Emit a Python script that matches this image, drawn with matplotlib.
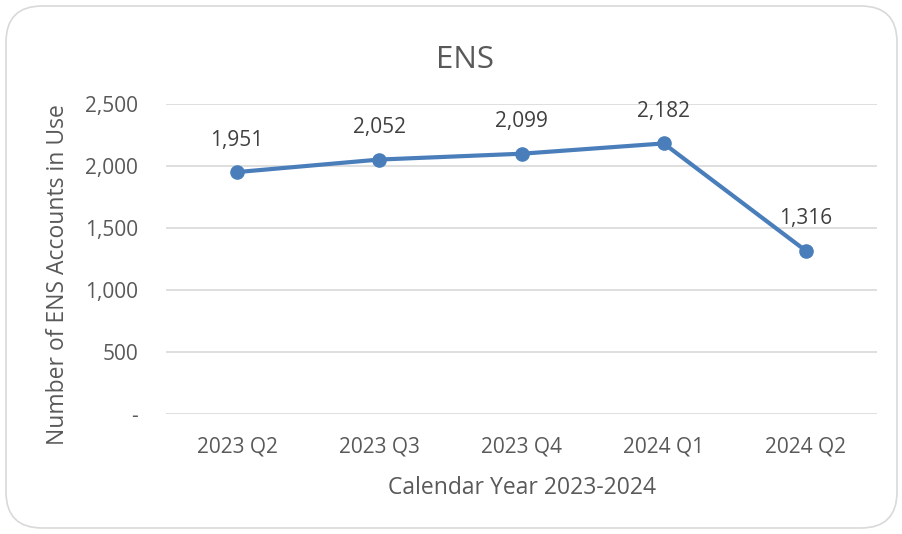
import matplotlib.pyplot as plt
from matplotlib.patches import FancyBboxPatch

quarters = ["2023 Q2", "2023 Q3", "2023 Q4", "2024 Q1", "2024 Q2"]
accounts = [1951, 2052, 2099, 2182, 1316]
y_ticks = [0, 500, 1000, 1500, 2000, 2500]
y_tick_labels = ["-", "500", "1,000", "1,500", "2,000", "2,500"]

plt.rcParams["font.family"] = ["Open Sans", "DejaVu Sans"]
text_color = "#595959"
line_color = "#4A7EBB"

fig = plt.figure(figsize=(9.03, 5.34), dpi=100)
ax = fig.add_axes([166 / 903, 1 - 414 / 534, (877 - 166) / 903, (414 - 104) / 534])

border = FancyBboxPatch(
    (6 / 903, 6 / 534), 891 / 903, 522 / 534,
    boxstyle="round,pad=0,rounding_size=0.04",
    transform=fig.transFigure, facecolor="white", edgecolor="#D9D9D9",
    linewidth=1.2, zorder=-10, mutation_aspect=903 / 534,
)
fig.patches.append(border)

x = list(range(len(quarters)))
ax.plot(x, accounts, color=line_color, linewidth=3, marker="o", markersize=9.5, zorder=3)
for xi, v in zip(x, accounts):
    ax.annotate(f"{v:,}", (xi, v), xytext=(0, 23), textcoords="offset points",
                ha="center", va="center", fontsize=15, color="#404040")

ax.set_xlim(-0.5, len(quarters) - 0.5)
ax.set_ylim(0, 2500)
ax.set_xticks(x)
ax.set_xticklabels(quarters)
ax.set_yticks(y_ticks)
ax.set_yticklabels(y_tick_labels)
ax.tick_params(length=0, labelsize=15, labelcolor=text_color)
ax.tick_params(axis="y", pad=20)
ax.tick_params(axis="x", pad=16)
ax.grid(axis="y", color="#D9D9D9", linewidth=1.2)
ax.set_axisbelow(True)
for s in ax.spines.values():
    s.set_visible(False)

fig.text(465 / 903, 1 - 60 / 534, "ENS", fontsize=22.5, color=text_color,
         ha="center", va="center")
ax.set_xlabel("Calendar Year 2023-2024", fontsize=16.5, color=text_color)
ax.xaxis.set_label_coords(0.5, -(488 - 414) / 310, transform=ax.transAxes)
ax.xaxis.label.set_va("center")
ax.set_ylabel("Number of ENS Accounts in Use", fontsize=16.5, color=text_color)
ax.yaxis.set_label_coords(-(166 - 58) / 711, (414 - 275) / 310, transform=ax.transAxes)
ax.yaxis.label.set_va("center")

fig.savefig("out.png", dpi=100)
